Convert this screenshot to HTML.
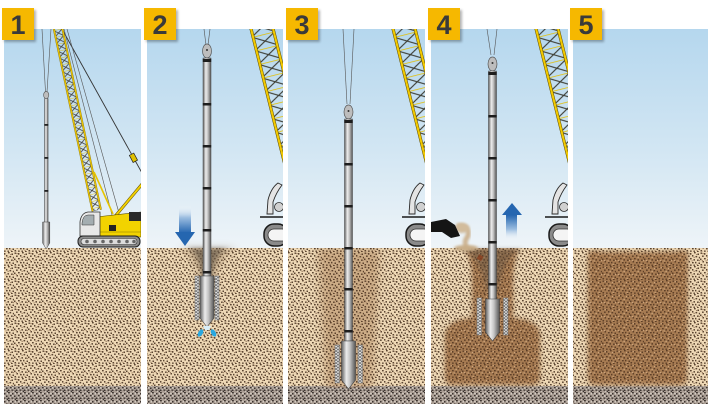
<!DOCTYPE html>
<html><head><meta charset="utf-8"><style>html,body{margin:0;padding:0;background:#fff;width:710px;height:413px;overflow:hidden}svg{display:block}</style></head><body>
<svg width="710" height="413" viewBox="0 0 710 413" xmlns="http://www.w3.org/2000/svg">
<defs>
<linearGradient id="sky" x1="0" y1="29" x2="0" y2="248" gradientUnits="userSpaceOnUse">
<stop offset="0" stop-color="#b5d7ee"/><stop offset="0.55" stop-color="#d2e6f3"/><stop offset="1" stop-color="#eef4f8"/>
</linearGradient>
<linearGradient id="cyl" x1="0" y1="0" x2="1" y2="0">
<stop offset="0" stop-color="#5e5e5e"/><stop offset="0.35" stop-color="#ececec"/><stop offset="0.6" stop-color="#c4c4c4"/><stop offset="1" stop-color="#555"/>
</linearGradient>
<linearGradient id="adown" x1="0" y1="0" x2="0" y2="1">
<stop offset="0" stop-color="#ffffff" stop-opacity="0"/><stop offset="0.45" stop-color="#9bbde0"/><stop offset="1" stop-color="#2566b0"/>
</linearGradient>
<linearGradient id="aup" x1="0" y1="1" x2="0" y2="0">
<stop offset="0" stop-color="#ffffff" stop-opacity="0"/><stop offset="0.45" stop-color="#9bbde0"/><stop offset="1" stop-color="#2566b0"/>
</linearGradient>
<g id="dk">
<rect x="0.5" y="0.5" width="1.7" height="1.4"/><rect x="4" y="1" width="1.4" height="1.7"/>
<rect x="8" y="0" width="1.7" height="1.4"/><rect x="11.5" y="1.5" width="1.5" height="1.5"/>
<rect x="2" y="3.5" width="1.7" height="1.4"/><rect x="6" y="3" width="1.4" height="1.6"/>
<rect x="9.5" y="4" width="1.7" height="1.4"/><rect x="12.8" y="4.8" width="1.2" height="1.6"/>
<rect x="0" y="6.5" width="1.5" height="1.6"/><rect x="4" y="6" width="1.7" height="1.4"/>
<rect x="7.5" y="7" width="1.4" height="1.7"/><rect x="11" y="7.5" width="1.7" height="1.4"/>
<rect x="2.5" y="9" width="1.5" height="1.5"/><rect x="6" y="10" width="1.7" height="1.4"/>
<rect x="9" y="9.8" width="1.4" height="1.6"/><rect x="12.5" y="10.5" width="1.5" height="1.5"/>
<rect x="0.5" y="12" width="1.6" height="1.5"/><rect x="4" y="12.5" width="1.7" height="1.3"/>
<rect x="7.5" y="12.5" width="1.4" height="1.5"/><rect x="11" y="13" width="1.7" height="1"/>
</g>
<g id="md">
<rect x="2.5" y="1" width="1.3" height="1.2"/><rect x="10" y="2" width="1.2" height="1.2"/>
<rect x="7.5" y="4.8" width="1.3" height="1.2"/><rect x="1.8" y="8" width="1.2" height="1.2"/>
<rect x="5.5" y="8.3" width="1.2" height="1.2"/><rect x="10.5" y="11.8" width="1.2" height="1.2"/>
<rect x="13" y="8" width="1" height="1.2"/><rect x="2" y="13.8" width="1.2" height="0.2"/>
</g>
<pattern id="soil" width="14" height="14" patternUnits="userSpaceOnUse">
<rect width="14" height="14" fill="#eed8b5"/>
<use href="#dk" fill="#5a4431"/><use href="#md" fill="#a48769"/>
</pattern>
<pattern id="brown" width="14" height="14" patternUnits="userSpaceOnUse">
<rect width="14" height="14" fill="#a67b52"/>
<use href="#dk" fill="#5e3f27"/><use href="#md" fill="#cba37a"/>
</pattern>
<pattern id="gravel" width="8" height="8" patternUnits="userSpaceOnUse">
<rect width="8" height="8" fill="#a99d93"/>
<g fill="#3c3430">
<rect x="0" y="0" width="1.8" height="1.3"/><rect x="4" y="1" width="1.5" height="1.5"/>
<rect x="2" y="3" width="1.6" height="1.3"/><rect x="6" y="3.5" width="1.5" height="1.5"/>
<rect x="0" y="5.5" width="1.5" height="1.5"/><rect x="3.5" y="5.5" width="1.8" height="1.3"/>
<rect x="6.5" y="6.5" width="1.5" height="1.5"/>
</g>
<g fill="#e2dbd2">
<rect x="2.3" y="0.8" width="1.3" height="1.2"/><rect x="6.8" y="1.2" width="1.2" height="1.2"/>
<rect x="4" y="3.3" width="1.4" height="1.2"/><rect x="1.5" y="4.8" width="1.2" height="1"/>
<rect x="5.3" y="7" width="1.2" height="1"/>
</g>
</pattern>
<pattern id="latS" width="9" height="7" patternUnits="userSpaceOnUse">
<path d="M0,0 L9,7 M9,0 L0,7" stroke="#3a3a3a" stroke-width="0.8" fill="none"/>
<path d="M0,0 H9" stroke="#d8b400" stroke-width="0.8"/>
</pattern>
<pattern id="latB" width="24" height="14" patternUnits="userSpaceOnUse">
<path d="M0,0 L24,14 M24,0 L0,14" stroke="#3a3a30" stroke-width="1.1" fill="none"/>
<path d="M0,0 H24" stroke="#e2bd00" stroke-width="1.6"/>
</pattern>
<pattern id="sleeve" width="4" height="3" patternUnits="userSpaceOnUse">
<rect width="4" height="3" fill="#e6e6e6"/>
<path d="M0,0 L2,1.5 L0,3 M4,0 L2,1.5 L4,3" stroke="#666" stroke-width="0.7" fill="none"/>
</pattern>
<filter id="b1" x="-20%" y="-20%" width="140%" height="140%"><feGaussianBlur stdDeviation="1.2"/></filter>
<filter id="b2" x="-30%" y="-30%" width="160%" height="160%"><feGaussianBlur stdDeviation="2"/></filter>
<filter id="b3" x="-30%" y="-30%" width="160%" height="160%"><feGaussianBlur stdDeviation="3"/></filter>
<filter id="b4" x="-40%" y="-40%" width="180%" height="180%"><feGaussianBlur stdDeviation="4"/></filter>
<clipPath id="c1"><rect x="4" y="29" width="137" height="375"/></clipPath>
<clipPath id="c2"><rect x="147" y="29" width="136" height="375"/></clipPath>
<clipPath id="c3"><rect x="288" y="29" width="137" height="375"/></clipPath>
<clipPath id="c4"><rect x="431" y="29" width="137" height="375"/></clipPath>
<clipPath id="c5"><rect x="573" y="29" width="135" height="375"/></clipPath>
<mask id="m3" maskUnits="userSpaceOnUse" x="288" y="240" width="137" height="160">
<path d="M318,248 L380,248 L372,388 L326,388 Z" fill="#777" filter="url(#b4)"/>
</mask>
<mask id="m4" maskUnits="userSpaceOnUse" x="431" y="240" width="137" height="160">
<path d="M466,249 L519,249 Q513,262 513,282 L513,318 Q538,320 540,334 L540,377 Q540,385 532,385 L453,385 Q445,385 445,377 L445,334 Q447,320 472,318 L472,282 Q472,262 466,249 Z" fill="#fff" filter="url(#b2)"/>
</mask>
<mask id="m5" maskUnits="userSpaceOnUse" x="573" y="240" width="135" height="160">
<path d="M588,253 Q592,249 600,252 L676,252 Q684,249 688,253 L687,378 Q687,385 679,385 L596,385 Q588,385 588,378 Z" fill="#fff" filter="url(#b2)"/>
</mask>
<g id="mach">
<path d="M-16,-34 L-15,-48 Q-12,-60 -5,-65 L-1,-63 Q-7,-55 -10,-46 L-10,-34 Z" fill="#e4e4e4" stroke="#2a2a2a" stroke-width="0.9"/>
<circle cx="-4" cy="-41" r="4.5" fill="#d0d0d0" stroke="#2a2a2a" stroke-width="0.8"/>
<path d="M-23,-31 H2" stroke="#1a1a1a" stroke-width="1.6"/>
<rect x="-19" y="-24" width="24" height="22" rx="10" fill="#8a8a8a" stroke="#1a1a1a" stroke-width="1.5"/>
<rect x="-15" y="-19" width="20" height="12" rx="6" fill="#f4f4f4" stroke="#333" stroke-width="0.8"/>
</g>
<g id="bigboom">
<rect x="0" y="0" width="24" height="220" fill="url(#latB)"/>
<rect x="0" y="0" width="2.6" height="220" fill="#f2c900" stroke="#5a4a00" stroke-width="0.5"/>
<rect x="21.4" y="0" width="2.6" height="220" fill="#f2c900" stroke="#5a4a00" stroke-width="0.5"/>
</g>
</defs>

<rect width="710" height="413" fill="#fff"/>

<!-- PANEL 1 -->
<g clip-path="url(#c1)">
<rect x="4" y="29" width="137" height="219" fill="url(#sky)"/>
<rect x="4" y="248" width="137" height="138" fill="url(#soil)"/>
<rect x="4" y="386" width="137" height="18" fill="url(#gravel)"/>
<line x1="62" y1="29" x2="142" y2="173" stroke="#333" stroke-width="0.9"/>
<line x1="64" y1="29" x2="112" y2="215" stroke="#555" stroke-width="0.6"/>
<line x1="67" y1="29" x2="119" y2="213" stroke="#555" stroke-width="0.6"/>
<rect x="131" y="154" width="5" height="8" fill="#e0c000" stroke="#222" stroke-width="0.7" transform="rotate(-28 133 158)"/>
<g transform="translate(49,10) rotate(-12)">
<rect x="0" y="0" width="10" height="206" fill="url(#latS)"/>
<rect x="0" y="0" width="1.6" height="206" fill="#f0c800" stroke="#6a5800" stroke-width="0.3"/>
<rect x="8.4" y="0" width="1.6" height="206" fill="#f0c800" stroke="#6a5800" stroke-width="0.3"/>
</g>
<line x1="94" y1="172" x2="113" y2="214" stroke="#e6c400" stroke-width="1.6"/>
<line x1="112" y1="220" x2="143" y2="183" stroke="#5a4a00" stroke-width="3"/>
<line x1="112" y1="220" x2="143" y2="183" stroke="#f2d000" stroke-width="2"/>
<path d="M96,217 L141,212 L141,237 L96,237 Z" fill="#f2d300" stroke="#5b4d00" stroke-width="0.6"/>
<rect x="129" y="212" width="12" height="9" fill="#2a2a2a"/>
<rect x="109" y="225" width="7" height="6" fill="#222"/>
<path d="M100,232 H141" stroke="#8a7600" stroke-width="0.6"/>
<path d="M80,236 L80,222 Q81,213 88,212 L100,212 L100,236 Z" fill="#e8e8e8" stroke="#333" stroke-width="0.8"/>
<path d="M82,223 Q83,215 88,215 L94,215 L94,225 L82,225 Z" fill="#a4adb0" stroke="#333" stroke-width="0.5"/>
<rect x="78" y="236" width="62" height="11" rx="5" fill="#8c8c8c" stroke="#1e1e1e" stroke-width="1"/>
<rect x="81" y="238.5" width="56" height="6" rx="3" fill="#dcdcdc" stroke="#333" stroke-width="0.6"/>
<g fill="#666"><circle cx="87" cy="241.5" r="1.8"/><circle cx="95" cy="241.5" r="1.8"/><circle cx="103" cy="241.5" r="1.8"/><circle cx="111" cy="241.5" r="1.8"/><circle cx="119" cy="241.5" r="1.8"/><circle cx="127" cy="241.5" r="1.8"/><circle cx="134" cy="241.5" r="1.8"/></g>
<line x1="42" y1="29" x2="45.5" y2="92" stroke="#555" stroke-width="0.6"/>
<line x1="51" y1="29" x2="47" y2="92" stroke="#555" stroke-width="0.6"/>
<ellipse cx="46.2" cy="95" rx="2.6" ry="3.6" fill="#bdbdbd" stroke="#555" stroke-width="0.6"/>
<rect x="44.5" y="98.5" width="3.6" height="124" fill="url(#cyl)" stroke="#444" stroke-width="0.4"/>
<g fill="#222"><rect x="44.3" y="124" width="4" height="1.8"/><rect x="44.3" y="157" width="4" height="1.8"/><rect x="44.3" y="190" width="4" height="1.8"/></g>
<path d="M42.6,222 L49.8,222 L49.8,243 L46.2,249 L42.6,243 Z" fill="url(#cyl)" stroke="#444" stroke-width="0.5"/>
</g>

<!-- PANEL 2 -->
<g clip-path="url(#c2)">
<rect x="147" y="29" width="136" height="219" fill="url(#sky)"/>
<rect x="147" y="248" width="136" height="138" fill="url(#soil)"/>
<rect x="147" y="386" width="136" height="18" fill="url(#gravel)"/>
<path d="M178,248 Q197,252 203,292 L211,292 Q217,252 238,248 Z" fill="#8e7558" opacity="0.45" filter="url(#b4)"/>
<path d="M188,248.5 Q200,252 203,282 L211,282 Q214,252 228,248.5 Z" fill="#5e5244" opacity="0.6" filter="url(#b2)"/>
<use href="#bigboom" transform="translate(245,10) rotate(-14)"/>
<use href="#mach" transform="translate(283,248)"/>
<rect x="179" y="205" width="12" height="28" fill="url(#adown)"/>
<path d="M175,232 L195,232 L185,246 Z" fill="#2566b0"/>
<line x1="204" y1="29" x2="206" y2="45" stroke="#555" stroke-width="0.6"/>
<line x1="210" y1="29" x2="208" y2="45" stroke="#555" stroke-width="0.6"/>
<ellipse cx="207" cy="51" rx="4.5" ry="7" fill="#bdbdbd" stroke="#555" stroke-width="0.7"/>
<circle cx="207" cy="50" r="1" fill="#333"/>
<rect x="203" y="58" width="8" height="218" fill="url(#cyl)" stroke="#444" stroke-width="0.5"/>
<g fill="#1e1e1e"><rect x="202.8" y="59" width="8.4" height="3"/><rect x="202.8" y="103" width="8.4" height="2.5"/><rect x="202.8" y="145" width="8.4" height="2.5"/><rect x="202.8" y="187" width="8.4" height="2.5"/><rect x="202.8" y="229" width="8.4" height="2.5"/><rect x="202.8" y="271" width="8.4" height="2.5"/></g>
<path d="M200,276 L214,276 L214,318 L207,327 L200,318 Z" fill="url(#cyl)" stroke="#444" stroke-width="0.6"/>
<rect x="195" y="276" width="4" height="44" fill="url(#sleeve)" stroke="#777" stroke-width="0.5"/>
<rect x="215" y="276" width="4" height="44" fill="url(#sleeve)" stroke="#777" stroke-width="0.5"/>
<path d="M203,326 L211,326 L209,330 L205,330 Z" fill="#d8eef8"/>
<ellipse cx="200.5" cy="333" rx="2.3" ry="4" fill="#29a8e0" transform="rotate(30 200.5 333)"/>
<ellipse cx="213.5" cy="333" rx="2.3" ry="4" fill="#29a8e0" transform="rotate(-30 213.5 333)"/>
</g>

<!-- PANEL 3 -->
<g clip-path="url(#c3)">
<rect x="288" y="29" width="137" height="219" fill="url(#sky)"/>
<rect x="288" y="248" width="137" height="138" fill="url(#soil)"/>
<rect x="288" y="386" width="137" height="18" fill="url(#gravel)"/>
<rect x="288" y="248" width="137" height="140" fill="url(#brown)" mask="url(#m3)"/>
<use href="#bigboom" transform="translate(387,10) rotate(-14)"/>
<use href="#mach" transform="translate(425,248)"/>
<line x1="343" y1="29" x2="347" y2="104" stroke="#555" stroke-width="0.6"/>
<line x1="354" y1="29" x2="350" y2="104" stroke="#555" stroke-width="0.6"/>
<ellipse cx="348.5" cy="112" rx="4.5" ry="7" fill="#bdbdbd" stroke="#555" stroke-width="0.7"/>
<circle cx="348.5" cy="111" r="1" fill="#333"/>
<rect x="344.5" y="119" width="8" height="222" fill="url(#cyl)" stroke="#444" stroke-width="0.5"/>
<g fill="#1e1e1e"><rect x="344.3" y="120" width="8.4" height="3"/><rect x="344.3" y="163" width="8.4" height="2.5"/><rect x="344.3" y="205" width="8.4" height="2.5"/><rect x="344.3" y="247" width="8.4" height="2.5"/><rect x="344.3" y="288" width="8.4" height="2.5"/><rect x="344.3" y="330" width="8.4" height="2.5"/></g>
<path d="M341.5,341 L355.5,341 L355.5,380 L348.5,389 L341.5,380 Z" fill="url(#cyl)" stroke="#444" stroke-width="0.6"/>
<rect x="335" y="345" width="4.5" height="38" fill="url(#sleeve)" stroke="#777" stroke-width="0.5"/>
<rect x="358" y="345" width="4.5" height="38" fill="url(#sleeve)" stroke="#777" stroke-width="0.5"/>
</g>

<!-- PANEL 4 -->
<g clip-path="url(#c4)">
<rect x="431" y="29" width="137" height="219" fill="url(#sky)"/>
<rect x="431" y="248" width="137" height="138" fill="url(#soil)"/>
<rect x="431" y="386" width="137" height="18" fill="url(#gravel)"/>
<rect x="431" y="248" width="137" height="140" fill="url(#brown)" mask="url(#m4)"/>
<path d="M460,249 Q480,254 487,292 L498,292 Q503,254 524,249 Z" fill="#5e5040" opacity="0.45" filter="url(#b2)"/>
<rect x="478" y="255" width="5" height="5" fill="#8a3a1a" opacity="0.7" transform="rotate(30 480 257)"/>
<use href="#bigboom" transform="translate(530,10) rotate(-14)"/>
<use href="#mach" transform="translate(568,248)"/>
<path d="M457,226 Q470,225 468,236 Q463,242 467,249" stroke="#cdb594" stroke-width="5" fill="none" filter="url(#b1)"/>
<ellipse cx="462" cy="228" rx="7" ry="5" fill="#d2bc9c" filter="url(#b1)"/>
<ellipse cx="466" cy="248" rx="12" ry="3" fill="#c9ae88" filter="url(#b1)"/>
<path d="M431,222 L446,219 L455,225 L460,236 L451,238 L442,232 L431,232 Z" fill="#151515"/>
<rect x="506" y="215" width="11" height="26" fill="url(#aup)"/>
<path d="M502,215 L522,215 L512,203 Z" fill="#2566b0"/>
<line x1="487" y1="29" x2="491" y2="55" stroke="#555" stroke-width="0.6"/>
<line x1="497" y1="29" x2="494" y2="55" stroke="#555" stroke-width="0.6"/>
<ellipse cx="492.5" cy="64" rx="4.5" ry="7" fill="#bdbdbd" stroke="#555" stroke-width="0.7"/>
<circle cx="492.5" cy="63" r="1" fill="#333"/>
<rect x="488.5" y="71" width="8" height="229" fill="url(#cyl)" stroke="#444" stroke-width="0.5"/>
<g fill="#1e1e1e"><rect x="488.3" y="72" width="8.4" height="3"/><rect x="488.3" y="115" width="8.4" height="2.5"/><rect x="488.3" y="157" width="8.4" height="2.5"/><rect x="488.3" y="199" width="8.4" height="2.5"/><rect x="488.3" y="241" width="8.4" height="2.5"/><rect x="488.3" y="283" width="8.4" height="2.5"/></g>
<path d="M485.5,299 L499.5,299 L499.5,332 L492.5,341 L485.5,332 Z" fill="url(#cyl)" stroke="#444" stroke-width="0.6"/>
<rect x="477" y="298" width="4.5" height="37" fill="url(#sleeve)" stroke="#777" stroke-width="0.5"/>
<rect x="503.5" y="298" width="4.5" height="37" fill="url(#sleeve)" stroke="#777" stroke-width="0.5"/>
</g>

<!-- PANEL 5 -->
<g clip-path="url(#c5)">
<rect x="573" y="29" width="135" height="219" fill="url(#sky)"/>
<rect x="573" y="248" width="135" height="138" fill="url(#soil)"/>
<rect x="573" y="386" width="135" height="18" fill="url(#gravel)"/>
<rect x="573" y="248" width="135" height="140" fill="url(#brown)" mask="url(#m5)"/>
</g>

<!-- BADGES -->
<g font-family="'Liberation Sans', sans-serif" font-weight="bold" font-size="27" text-anchor="middle" fill="#3a3a3a">
<rect x="4" y="10" width="32" height="32" fill="#000" opacity="0.3" filter="url(#b1)"/>
<rect x="2" y="8" width="32" height="32" fill="#f6b800"/>
<text x="18" y="34">1</text>
<rect x="146" y="10" width="32" height="32" fill="#000" opacity="0.3" filter="url(#b1)"/>
<rect x="144" y="8" width="32" height="32" fill="#f6b800"/>
<text x="160" y="34">2</text>
<rect x="288" y="10" width="32" height="32" fill="#000" opacity="0.3" filter="url(#b1)"/>
<rect x="286" y="8" width="32" height="32" fill="#f6b800"/>
<text x="302" y="34">3</text>
<rect x="430" y="10" width="32" height="32" fill="#000" opacity="0.3" filter="url(#b1)"/>
<rect x="428" y="8" width="32" height="32" fill="#f6b800"/>
<text x="444" y="34">4</text>
<rect x="572" y="10" width="32" height="32" fill="#000" opacity="0.3" filter="url(#b1)"/>
<rect x="570" y="8" width="32" height="32" fill="#f6b800"/>
<text x="586" y="34">5</text>
</g>
</svg>
</body></html>
